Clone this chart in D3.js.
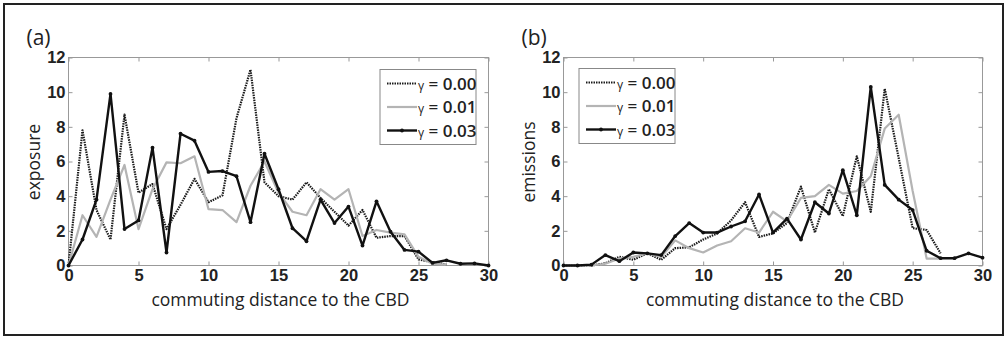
<!DOCTYPE html>
<html>
<head>
<meta charset="utf-8">
<script src="https://cdn.jsdelivr.net/npm/d3@7"></script>
<style>
  body { margin: 0; background: #fff; }
  svg { font-family: "Open Sans", sans-serif; }
</style>
</head>
<body>
<svg id="chart" width="1008" height="338"></svg>
<script>
// distance to CBD, 0..30
const distance = d3.range(0, 31);
const xTicks = [0, 5, 10, 15, 20, 25, 30];
const yTicks = [0, 2, 4, 6, 8, 10, 12];
const seriesNames = ["0.00", "0.01", "0.03"];

// (a) exposure
const exposureG000 = [0, 7.8, 3.2, 1.5, 8.7, 4.2, 4.7, 2.1, 3.5, 5.0, 3.65, 4.05, 8.5, 11.3, 4.8, 4.0, 3.8, 4.8, 3.9, 3.1, 2.3, 3.2, 1.6, 1.7, 1.7, 0.35, 0.2, 0.05];
const exposureG001 = [0, 2.9, 1.65, 3.8, 5.8, 2.1, 4.4, 5.95, 5.9, 6.3, 3.25, 3.2, 2.5, 4.6, 6.0, 4.2, 3.1, 2.9, 4.4, 3.8, 4.4, 1.7, 2.05, 1.9, 1.8, 0.5, 0.1, 0.05];
const exposureG003 = [0, 1.5, 3.8, 9.9, 2.1, 2.6, 6.8, 0.75, 7.6, 7.2, 5.4, 5.45, 5.15, 2.5, 6.45, 4.4, 2.15, 1.4, 3.8, 2.45, 3.4, 1.15, 3.7, 1.95, 0.9, 0.8, 0.15, 0.3, 0.1, 0.12, 0];

// (b) emissions
const emissionsG000 = [0, 0, 0, 0.13, 0.5, 0.33, 0.7, 0.33, 1.0, 1.05, 1.5, 1.85, 2.6, 3.65, 1.65, 1.85, 2.45, 4.55, 1.9, 4.4, 2.85, 6.3, 3.1, 10.2, 6.2, 2.15, 2.05, 0.7];
const emissionsG001 = [0, 0, 0, 0.1, 0.4, 0.5, 0.7, 0.5, 1.45, 1.0, 0.75, 1.15, 1.4, 2.15, 1.9, 3.1, 2.55, 3.9, 4.0, 4.65, 4.15, 4.3, 5.15, 7.9, 8.7, 4.3, 0.4, 0.4];
const emissionsG003 = [0, 0, 0.05, 0.6, 0.25, 0.75, 0.7, 0.6, 1.7, 2.45, 1.9, 1.9, 2.25, 2.55, 4.1, 1.9, 2.7, 1.5, 3.65, 3.0, 5.5, 2.9, 10.3, 4.65, 3.8, 3.2, 0.85, 0.42, 0.42, 0.7, 0.45];

const styles = [
  { stroke: "#1a1a1a", width: 2.2, dash: "1.5,1", dots: false },
  { stroke: "#b4b4b4", width: 2.2, dash: null, dots: false },
  { stroke: "#111", width: 2.4, dash: null, dots: true }
];

const svg = d3.select("#chart");

// outer frame
svg.append("rect")
  .attr("x", 4).attr("y", 4).attr("width", 999).attr("height", 331)
  .attr("fill", "none").attr("stroke", "#222").attr("stroke-width", 2);

function panel(opts) {
  const x = d3.scaleLinear().domain([0, 30]).range([opts.left, opts.right]);
  const y = d3.scaleLinear().domain([0, 12]).range([265.5, 57.5]);
  const g = svg.append("g");

  // frame of axes
  g.append("rect")
    .attr("x", opts.left).attr("y", 57.5)
    .attr("width", opts.right - opts.left).attr("height", 208)
    .attr("fill", "none").attr("stroke", "#999").attr("stroke-width", 1);

  const axisStyle = sel => {
    sel.select(".domain").remove();
    sel.selectAll(".tick line").attr("stroke", "#999");
    sel.selectAll(".tick text").attr("fill", "#222").attr("font-size", 16.5).attr("font-weight", 600);
  };

  g.append("g").attr("transform", "translate(0,265.5)")
    .call(d3.axisBottom(x).tickValues(xTicks).tickSizeInner(-4).tickPadding(4))
    .call(axisStyle);
  g.append("g").attr("transform", "translate(0,57.5)")
    .call(d3.axisTop(x).tickValues(xTicks).tickSizeInner(-4).tickFormat(""))
    .call(axisStyle);
  g.append("g").attr("transform", "translate(" + opts.left + ",0)")
    .call(d3.axisLeft(y).tickValues(yTicks).tickSizeInner(-4).tickPadding(3))
    .call(axisStyle);
  g.append("g").attr("transform", "translate(" + opts.right + ",0)")
    .call(d3.axisRight(y).tickValues(yTicks).tickSizeInner(-4).tickFormat(""))
    .call(axisStyle);

  // labels
  g.append("text")
    .attr("x", (opts.left + opts.right) / 2 + 2).attr("y", 306)
    .attr("text-anchor", "middle").attr("font-size", 17.5).attr("fill", "#222")
    .text("commuting distance to the CBD");
  g.append("text")
    .attr("transform", "translate(" + (opts.left - 29) + ",162) rotate(-90)")
    .attr("text-anchor", "middle").attr("font-size", 17.5).attr("fill", "#222")
    .text(opts.ylabel);
  g.append("text")
    .attr("x", opts.left - 42).attr("y", 45)
    .attr("font-size", 21).attr("fill", "#222")
    .text(opts.tag);

  const line = d3.line()
    .x((d, i) => x(distance[i]))
    .y(d => y(d));

  opts.series.forEach((vals, k) => {
    const s = styles[k];
    g.append("path")
      .datum(vals)
      .attr("fill", "none")
      .attr("stroke", s.stroke)
      .attr("stroke-width", s.width)
      .attr("stroke-linejoin", "round")
      .attr("stroke-dasharray", s.dash)
      .attr("d", line);
    if (s.dots) {
      g.selectAll(null).data(vals).enter().append("circle")
        .attr("cx", (d, i) => x(distance[i]))
        .attr("cy", d => y(d))
        .attr("r", 1.9)
        .attr("fill", s.stroke);
    }
  });

  // legend
  const lg = g.append("g").attr("transform", "translate(" + opts.legX + "," + opts.legY + ")");
  lg.append("rect")
    .attr("width", 96).attr("height", 75)
    .attr("fill", "#fff").attr("stroke", "#888").attr("stroke-width", 1);
  seriesNames.forEach((name, k) => {
    const s = styles[k];
    const cy = 14 + k * 23.5;
    lg.append("line")
      .attr("x1", 7).attr("x2", 37).attr("y1", cy).attr("y2", cy)
      .attr("stroke", s.stroke).attr("stroke-width", s.width)
      .attr("stroke-dasharray", s.dash);
    if (s.dots) {
      lg.append("circle").attr("cx", 22).attr("cy", cy).attr("r", 1.9).attr("fill", s.stroke);
    }
    const t = lg.append("text").attr("x", 38).attr("y", cy + 6).attr("fill", "#222");
    t.append("tspan").attr("font-size", 12).text("γ");
    t.append("tspan").attr("font-size", 17).attr("font-weight", 600).text(" = " + name);
  });
}

panel({
  left: 68.5, right: 488.5, tag: "(a)", ylabel: "exposure",
  legX: 380, legY: 69.5,
  series: [exposureG000, exposureG001, exposureG003]
});
panel({
  left: 563.5, right: 982.5, tag: "(b)", ylabel: "emissions",
  legX: 579, legY: 68.5,
  series: [emissionsG000, emissionsG001, emissionsG003]
});
</script>
</body>
</html>
